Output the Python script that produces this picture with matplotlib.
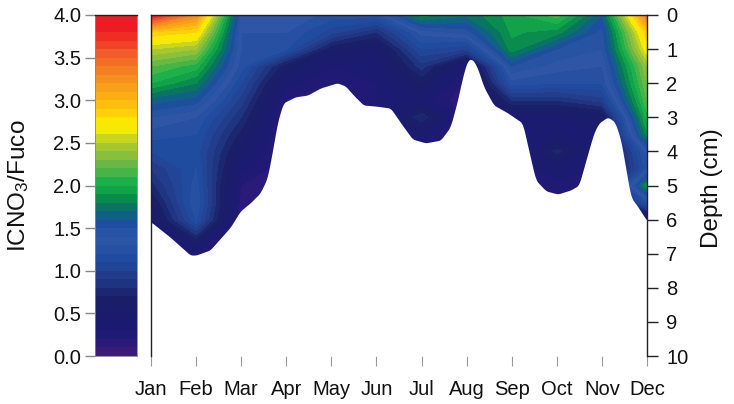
import numpy as np
import matplotlib
matplotlib.use("Agg")
import matplotlib.pyplot as plt
from matplotlib.colors import LinearSegmentedColormap, BoundaryNorm

plt.rcParams['font.family'] = ['Liberation Sans', 'DejaVu Sans']
plt.rcParams['mathtext.fontset'] = 'custom'
plt.rcParams['mathtext.rm'] = 'Liberation Sans'
plt.rcParams['mathtext.default'] = 'regular'

months = ["Jan","Feb","Mar","Apr","May","Jun","Jul","Aug","Sep","Oct","Nov","Dec"]
depth_ticks = list(range(0, 11))
ratio_ticks = [0.0,0.5,1.0,1.5,2.0,2.5,3.0,3.5,4.0]

depths = [0, 0.5, 1, 1.5, 2, 2.5, 3, 3.5, 4, 4.5, 5, 5.5, 6, 7, 8]
jan = [3.9, 2.9, 2.5, 2.2, 2.0, 1.65, 1.4, 1.25, 1.1, 0.9, 0.75, 0.55, 0.4, 0.2, 0.1]
feb = [3.3, 2.8, 2.4, 2.05, 1.8, 1.55, 1.3, 1.2, 1.15, 1.2, 1.25, 1.3, 1.2, 0.3, 0.1]
mar = [1.35, 1.3, 1.3, 1.25, 1.1, 0.95, 0.8, 0.65, 0.5, 0.35, 0.2, 0.15, 0.1, 0.1, 0.1]
apr = [1.4, 1.3, 1.2, 0.6, 0.35, 0.2, 0.1, 0.1, 0.1, 0.1, 0.1, 0.1, 0.1, 0.1, 0.1]
may = [1.25, 1.05, 0.6, 0.3, 0.2, 0.15, 0.1, 0.1, 0.1, 0.1, 0.1, 0.1, 0.1, 0.1, 0.1]
jun = [1.25, 0.8, 0.45, 0.35, 0.3, 0.3, 0.3, 0.3, 0.3, 0.3, 0.3, 0.3, 0.3, 0.3, 0.3]
jul = [1.85, 1.35, 1.1, 0.85, 0.6, 0.35, 0.8, 0.4, 0.2, 0.2, 0.2, 0.2, 0.2, 0.2, 0.2]
aug = [1.72, 1.45, 1.0, 0.3, 0.15, 0.1, 0.1, 0.1, 0.1, 0.1, 0.1, 0.1, 0.1, 0.1, 0.1]
sep = [1.95, 1.92, 1.86, 1.5, 1.25, 0.8, 0.35, 0.25, 0.2, 0.2, 0.2, 0.2, 0.2, 0.2, 0.2]
oct_ = [2.15, 1.85, 1.5, 1.35, 1.2, 0.8, 0.4, 0.35, 0.75, 0.4, 0.25, 0.2, 0.2, 0.2, 0.2]
nov = [1.6, 1.45, 1.4, 1.3, 1.2, 0.95, 0.5, 0.35, 0.3, 0.3, 0.3, 0.3, 0.3, 0.3, 0.3]
dec = [3.4, 2.9, 2.7, 2.4, 2.3, 2.2, 2.05, 1.85, 1.35, 1.25, 1.9, 1.2, 0.3, 0.2, 0.2]

edge_month = [0,0.42,0.87,1,1.31,1.76,1.98,2.2,2.42,2.58,2.71,2.8,2.93,3.2,3.47,3.76,4.13,4.31,4.49,4.71,4.98,5.31,5.6,5.8,6.09,6.42,6.64,6.8,6.91,7.02,7.13,7.24,7.38,7.6,7.91,8.24,8.36,8.53,8.76,9.02,9.31,9.49,9.69,9.82,9.93,10.13,10.29,10.42,10.64,10.8,11]
edge_depth = [6.07,6.51,7.04,7.04,6.89,6.22,5.75,5.51,5.22,4.78,3.87,3.17,2.58,2.4,2.35,2.14,1.99,2.08,2.35,2.64,2.67,2.73,3.28,3.64,3.75,3.67,3.28,2.49,1.82,1.32,1.29,1.55,2.11,2.64,2.87,3.17,3.87,4.84,5.16,5.25,5.13,4.99,4.05,3.46,3.17,2.99,3.14,3.67,5.34,5.63,6.04]

ref_colors = [(0.0,"#3b1a78"),(0.1,"#2b1a78"),(0.25,"#1b1a72"),(0.65,"#1a1f66"),(0.75,"#1c2f7a"),
              (0.95,"#24408f"),(1.1,"#1f4ba0"),(1.35,"#2f56a6"),(1.55,"#1d4e9f"),(1.68,"#0a6a7a"),
              (1.78,"#0a7a55"),(1.88,"#0a9a4a"),(2.05,"#1fb24a"),(2.25,"#6cb945"),(2.5,"#b3cb2e"),
              (2.7,"#fff200"),(2.95,"#fec10e"),(3.25,"#f7941d"),(3.6,"#f15a29"),(3.85,"#ed1c24"),(4.0,"#ed1c24")]
cmap = LinearSegmentedColormap.from_list("ratio", [(v/4.0, c) for v, c in ref_colors])
levels = np.arange(0, 4.0001, 0.1)
norm = BoundaryNorm(levels, cmap.N)

W, H = 734, 404
fig = plt.figure(figsize=(W/100, H/100), dpi=100)
def pix_axes(x0, x1, y0, y1):
    return fig.add_axes([x0/W, 1-y1/H, (x1-x0)/W, (y1-y0)/H])

cax = pix_axes(95, 137, 15, 356)
mid = (levels[:-1]+levels[1:])/2
cax.imshow(mid.reshape(-1, 1), origin="lower", aspect="auto", cmap=cmap, norm=norm,
           extent=[0, 1, 0, 4], interpolation="nearest")
cax.set_xticks([])
cax.set_yticks(ratio_ticks)
cax.set_yticklabels([f"{v:.1f}" for v in ratio_ticks], fontsize=14.5, color="#111111")
cax.tick_params(axis="y", length=7, width=1, color="#888888", pad=3)
for s in ["right","bottom","left"]:
    cax.spines[s].set_color("#888888"); cax.spines[s].set_linewidth(0.6)
cax.spines["top"].set_color("#222222"); cax.spines["top"].set_linewidth(1)
fig.text(19/W, 1-186/H, r"ICNO$_3$/Fuco", rotation=90, ha="center", va="center", fontsize=17.5, color="#111111")

ax = pix_axes(151, 647, 15, 356)
Z = np.array([jan,feb,mar,apr,may,jun,jul,aug,sep,oct_,nov,dec]).T
for _ in range(2):
    ax.contourf(np.arange(12), depths, Z, levels=levels, cmap=cmap, norm=norm, extend="both")

# rounded lower edge of the sampled region
xx = np.linspace(0, 11, 1101)
yy = np.interp(xx, edge_month, edge_depth)
win = 11
pad = np.pad(yy, win//2, mode="edge")
yy = np.convolve(pad, np.ones(win)/win, mode="valid")
ax.fill_between(xx, yy, 10, color="white", lw=0, zorder=3)

ax.set_xlim(0, 11)
ax.set_ylim(10, 0)
ax.set_xticks(range(12))
ax.set_xticklabels(months, fontsize=14.5, color="#111111")
ax.tick_params(axis="x", length=7, width=0.8, color="#999999", pad=10)
ax.yaxis.tick_right()
ax.set_yticks(depth_ticks)
ax.tick_params(axis="y", length=8, width=1, color="#222222", labelsize=14.5, labelcolor="#111111", pad=6)
for s in ["left","top","right"]:
    ax.spines[s].set_color("#222222"); ax.spines[s].set_linewidth(1); ax.spines[s].set_zorder(5)
ax.spines["bottom"].set_visible(False)
fig.text(712/W, 1-188/H, "Depth (cm)", rotation=90, ha="center", va="center", fontsize=17.5, color="#111111")

fig.savefig("out.png", dpi=100)
